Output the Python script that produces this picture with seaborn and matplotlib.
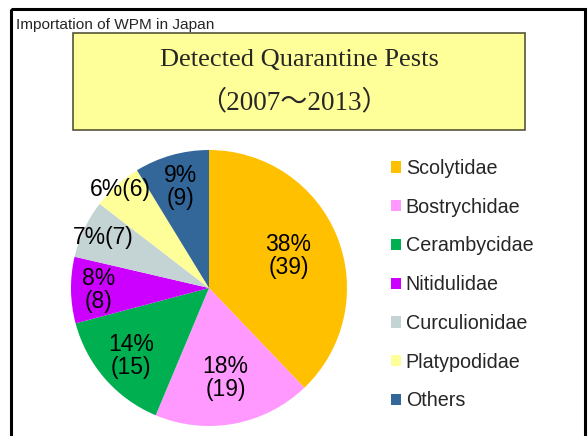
import numpy as np
import matplotlib
matplotlib.use('Agg')
import matplotlib.pyplot as plt
from matplotlib.patches import Rectangle
import seaborn as sns

# pest families detected in imported wood packaging material, 2007-2013
names = ['Scolytidae', 'Bostrychidae', 'Cerambycidae', 'Nitidulidae',
         'Curculionidae', 'Platypodidae', 'Others']
counts = [39, 19, 15, 8, 7, 6, 9]
pcts = [38, 18, 14, 8, 7, 6, 9]
colors = ['#FFC000', '#FF99FF', '#00B050', '#CC00FF', '#C4D3D3', '#FFFF99', '#336699']

# label layout (fraction of radius, one or two lines)
label_r = [0.62, 0.66, 0.75, 0.80, 0.85, 0.96, 0.76]
one_line = [False, False, False, False, True, True, False]

sns.set_theme(style='white')
plt.rcParams['font.family'] = ['Liberation Sans', 'DejaVu Sans']

W, H = 588, 436
fig = plt.figure(figsize=(W / 100, H / 100), dpi=100)
fig.patch.set_facecolor('white')

# background layer in pixel coordinates: frame, caption, title box
bg = fig.add_axes([0, 0, 1, 1])
bg.set_xlim(0, W)
bg.set_ylim(H, 0)
bg.axis('off')
bg.add_patch(Rectangle((11, 9), 574, 440, fill=False, edgecolor='black', lw=2.2))
bg.text(16, 25, 'Importation of WPM in Japan', fontsize=11.1, va='center', ha='left')
bg.add_patch(Rectangle((73, 33), 452, 97, facecolor='#FFFF99', edgecolor='#55553a', lw=1.2))
bg.text(299, 60, 'Detected Quarantine Pests', fontsize=19, ha='center', va='center',
        family=['Liberation Serif', 'Noto Sans CJK JP'])
bg.text(294, 103, '（2007〜2013）', fontsize=19.5, ha='center', va='center',
        family=['Liberation Serif', 'Noto Sans CJK JP'])

# pie axes: circle centre (209, 288) px, radius 138 px
cx, cy, r = 209, 288, 138
ax = fig.add_axes([(cx - r) / W, (H - cy - r) / H, 2 * r / W, 2 * r / H])
wedges, _ = ax.pie(counts, colors=sns.color_palette(colors), startangle=90,
                   counterclock=False, wedgeprops={'linewidth': 0})
ax.set_xlim(-1, 1)
ax.set_ylim(-1, 1)
ax.axis('off')

total = float(sum(counts))
ends = np.cumsum(counts)
for i, c in enumerate(counts):
    mid = 90 - (ends[i] - c / 2) / total * 360
    x = label_r[i] * np.cos(np.radians(mid))
    y = label_r[i] * np.sin(np.radians(mid))
    sep = '' if one_line[i] else '\n'
    ax.text(x, y, f'{pcts[i]}%{sep}({c})', ha='center', va='center',
            fontsize=16.5, linespacing=1.0, color='black')

fig.legend(wedges, names, loc='upper left', bbox_to_anchor=(391 / W, 1 - 159 / H),
           frameon=False, fontsize=14.2, handlelength=0.5, handleheight=0.5,
           handletextpad=0.25, labelspacing=1.0, borderaxespad=0, borderpad=0)

fig.savefig('out.png', dpi=100)
